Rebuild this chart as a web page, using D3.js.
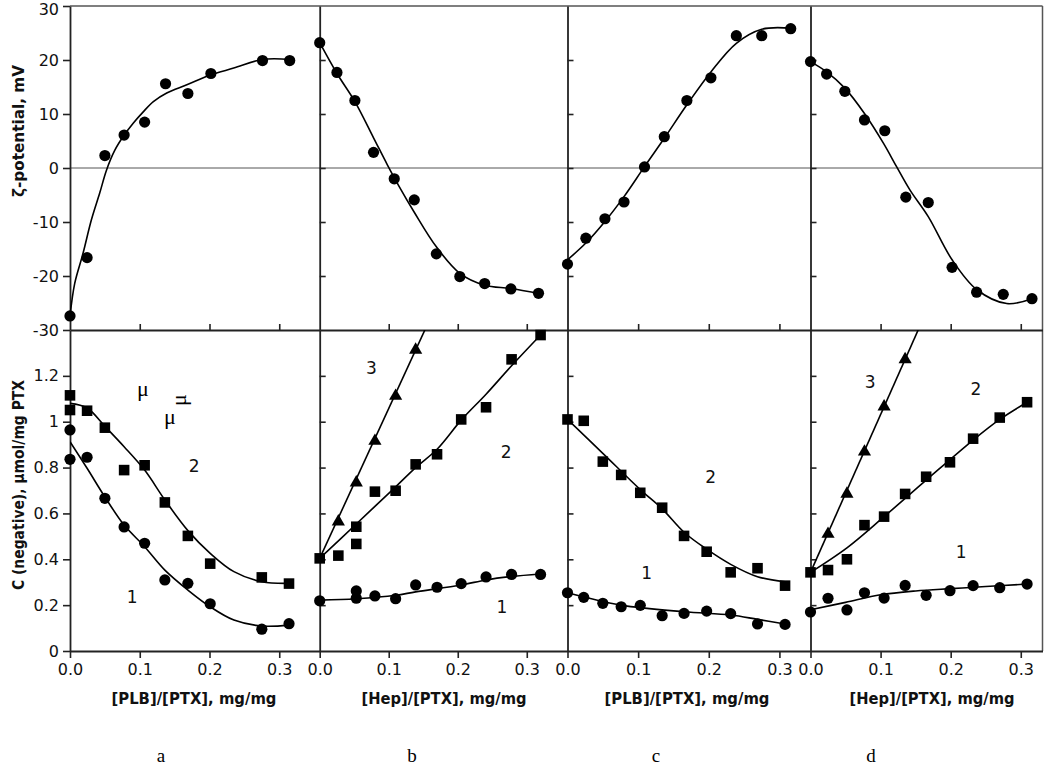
<!DOCTYPE html>
<html><head><meta charset="utf-8">
<script src="https://cdn.jsdelivr.net/npm/d3@7"></script>
<style>body{margin:0;background:#fff}svg{display:block}</style>
</head><body><svg id="c" width="1050" height="769"></svg>
<script>
// ---------- DATA ----------
const panelLetters = ["a", "b", "c", "d"];
const xTitles = ["[PLB]/[PTX], mg/mg", "[Hep]/[PTX], mg/mg", "[PLB]/[PTX], mg/mg", "[Hep]/[PTX], mg/mg"];
const xMax = [0.358, 0.359, 0.344, 0.331];
const xTickValues = [0, 0.1, 0.2, 0.3];
const zetaTicks = [30, 20, 10, 0, -10, -20, -30];
const concTicks = [0, 0.2, 0.4, 0.6, 0.8, 1, 1.2];

// zeta-potential, mV (top row)
const zetaA = [[0,-27.4],[0.0245,-16.6],[0.050,2.3],[0.0776,6.1],[0.107,8.5],[0.137,15.6],[0.169,13.8],[0.202,17.5],[0.276,19.9],[0.315,19.9]];
const zetaB = [[0,23.2],[0.025,17.7],[0.051,12.5],[0.078,2.9],[0.108,-2.0],[0.137,-5.9],[0.169,-15.9],[0.203,-20.1],[0.239,-21.4],[0.277,-22.4],[0.317,-23.2]];
const zetaC = [[0,-17.8],[0.026,-13.0],[0.053,-9.4],[0.080,-6.3],[0.109,0.2],[0.137,5.8],[0.169,12.5],[0.203,16.7],[0.239,24.5],[0.275,24.5],[0.316,25.8]];
const zetaD = [[0,19.7],[0.023,17.4],[0.049,14.2],[0.077,8.9],[0.106,6.9],[0.136,-5.4],[0.168,-6.4],[0.202,-18.4],[0.237,-23.0],[0.275,-23.4],[0.316,-24.2]];

// fitted curves (top row)
const zetaFitA = [[0,-27.4],[0.0067,-21.4],[0.0187,-15.8],[0.0307,-9.6],[0.0427,-4.6],[0.0523,-0.4],[0.0643,3.3],[0.0777,6.1],[0.0906,8.3],[0.105,10.4],[0.1195,12.3],[0.1387,13.9],[0.1675,15.4],[0.2011,17.2],[0.2347,18.5],[0.276,20.1],[0.316,20.1]];
const zetaFitB = [[0,23.2],[0.025,17.5],[0.051,12.3],[0.078,5.6],[0.098,0.6],[0.115,-3.4],[0.137,-8.2],[0.169,-14.6],[0.203,-19.5],[0.239,-21.7],[0.277,-22.3],[0.317,-23.2]];
const zetaFitC = [[0,-17.0],[0.026,-13.9],[0.053,-9.9],[0.080,-5.3],[0.109,0.25],[0.137,5.5],[0.169,11.7],[0.203,17.8],[0.239,23.1],[0.275,25.7],[0.316,25.9]];
const zetaFitD = [[0,19.7],[0.023,17.8],[0.049,14.8],[0.077,10.1],[0.104,4.6],[0.123,0.2],[0.142,-4.1],[0.168,-9.0],[0.202,-17.0],[0.237,-22.5],[0.280,-25.1],[0.316,-24.2]];

// C (negative), umol/mg PTX (bottom row); series 1 = circles, 2 = squares, 3 = triangles
const concA1 = [[0,0.964],[0,0.836],[0.0245,0.845],[0.050,0.666],[0.0776,0.541],[0.107,0.470],[0.136,0.310],[0.169,0.295],[0.201,0.206],[0.275,0.095],[0.314,0.119]];
const concA2 = [[0,1.115],[0,1.051],[0.0245,1.048],[0.050,0.974],[0.0776,0.789],[0.107,0.810],[0.136,0.648],[0.169,0.502],[0.201,0.381],[0.275,0.321],[0.314,0.294]];
const concB1 = [[0,0.219],[0.053,0.230],[0.053,0.262],[0.080,0.240],[0.110,0.228],[0.139,0.288],[0.170,0.278],[0.205,0.294],[0.241,0.323],[0.278,0.334],[0.320,0.334]];
const concB2 = [[0,0.404],[0.027,0.416],[0.053,0.542],[0.053,0.467],[0.080,0.695],[0.110,0.699],[0.139,0.814],[0.170,0.858],[0.205,1.010],[0.241,1.063],[0.278,1.272],[0.320,1.378]];
const concB3 = [[0.027,0.564],[0.053,0.734],[0.080,0.916],[0.110,1.112],[0.139,1.313]];
const concC1 = [[0,0.254],[0.023,0.234],[0.050,0.208],[0.076,0.193],[0.103,0.199],[0.134,0.154],[0.165,0.164],[0.197,0.174],[0.231,0.163],[0.269,0.118],[0.308,0.116]];
const concC2 = [[0,1.010],[0.023,1.004],[0.050,0.826],[0.076,0.768],[0.103,0.690],[0.134,0.625],[0.165,0.502],[0.197,0.433],[0.231,0.343],[0.269,0.361],[0.308,0.285]];
const concD1 = [[0,0.170],[0.025,0.230],[0.052,0.179],[0.077,0.254],[0.105,0.231],[0.135,0.286],[0.165,0.243],[0.199,0.263],[0.232,0.285],[0.270,0.276],[0.309,0.292]];
const concD2 = [[0,0.343],[0.025,0.353],[0.052,0.400],[0.077,0.549],[0.105,0.586],[0.135,0.685],[0.165,0.760],[0.199,0.823],[0.232,0.926],[0.270,1.018],[0.309,1.085]];
const concD3 = [[0.025,0.510],[0.052,0.685],[0.077,0.869],[0.105,1.066],[0.135,1.272]];

// fitted curves (bottom row)
const concFitA1 = [[0,0.913],[0.0245,0.797],[0.05,0.672],[0.0776,0.549],[0.107,0.455],[0.136,0.353],[0.169,0.266],[0.201,0.193],[0.235,0.135],[0.275,0.109],[0.314,0.113]];
const concFitA2 = [[0,1.080],[0.0245,1.06],[0.05,0.98],[0.0776,0.891],[0.107,0.789],[0.136,0.659],[0.169,0.525],[0.201,0.426],[0.235,0.346],[0.275,0.302],[0.314,0.295]];
const concFitB1 = [[0,0.222],[0.053,0.228],[0.110,0.243],[0.139,0.258],[0.205,0.288],[0.241,0.31],[0.278,0.325],[0.320,0.336]];
const concFitB2 = [[0,0.404],[0.053,0.554],[0.110,0.716],[0.139,0.80],[0.170,0.88],[0.205,1.007],[0.241,1.12],[0.278,1.244],[0.320,1.378]];
const concFitB3 = [[0,0.404],[0.16,1.450]];
const concFitC1 = [[0,0.254],[0.076,0.200],[0.165,0.171],[0.231,0.157],[0.269,0.138],[0.308,0.118]];
const concFitC2 = [[0,1.01],[0.050,0.862],[0.103,0.704],[0.134,0.62],[0.165,0.518],[0.197,0.444],[0.231,0.378],[0.269,0.324],[0.308,0.302]];
const concFitD1 = [[0,0.180],[0.05,0.212],[0.1,0.245],[0.15,0.262],[0.2,0.272],[0.25,0.281],[0.309,0.292]];
const concFitD2 = [[0,0.343],[0.052,0.45],[0.105,0.586],[0.165,0.745],[0.232,0.920],[0.270,1.01],[0.309,1.085]];
const concFitD3 = [[0,0.343],[0.16,1.444]];

// curve number labels [text, x, y]
const curveLabelsA = [["2",0.178,0.807],["1",0.089,0.236]];
const curveLabelsB = [["3",0.075,1.233],["2",0.270,0.867],["1",0.264,0.193]];
const curveLabelsC = [["2",0.2025,0.758],["1",0.112,0.339]];
const curveLabelsD = [["3",0.085,1.174],["2",0.236,1.143],["1",0.215,0.430]];

const zetaPanels = [zetaA, zetaB, zetaC, zetaD];
const zetaFits = [zetaFitA, zetaFitB, zetaFitC, zetaFitD];
const concPanels = [
  {c: concA1, s: concA2, t: null, f: [concFitA1, concFitA2]},
  {c: concB1, s: concB2, t: concB3, f: [concFitB1, concFitB2, concFitB3]},
  {c: concC1, s: concC2, t: null, f: [concFitC1, concFitC2]},
  {c: concD1, s: concD2, t: concD3, f: [concFitD1, concFitD2, concFitD3]}
];
const curveLabels = [curveLabelsA, curveLabelsB, curveLabelsC, curveLabelsD];

// ---------- LAYOUT ----------
const svg = d3.select("#c");
const edges = [70, 319.7, 567.5, 810.5, 1042.5];
const yTop = d3.scaleLinear().domain([-30, 30]).range([330, 6]);
const yBot = d3.scaleLinear().domain([0, 1.4]).range([651, 330]);
const frame = "#222";
const tickFont = "'DejaVu Sans', Verdana, sans-serif";
const titleFont = "'DejaVu Sans Condensed', 'Liberation Sans Narrow', sans-serif";

const defs = svg.append("defs");

svg.append("line").attr("x1", edges[0]).attr("x2", edges[4])
  .attr("y1", yTop(0)).attr("y2", yTop(0)).attr("stroke", "#555").attr("stroke-width", 1);
svg.append("line").attr("x1", edges[0]).attr("x2", edges[4]).attr("y1", yTop(30)).attr("y2", yTop(30))
  .attr("stroke", "#555").attr("stroke-width", 1.5);
svg.append("line").attr("x1", edges[4]).attr("x2", edges[4]).attr("y1", yTop(30)).attr("y2", yBot(0))
  .attr("stroke", "#555").attr("stroke-width", 1.5);

function styleAxis(g) {
  g.selectAll("path.domain").attr("stroke", frame).attr("stroke-width", 1.8);
  g.selectAll(".tick line").attr("stroke", frame).attr("stroke-width", 1.6);
  g.selectAll(".tick text").attr("fill", "#111").attr("font-family", tickFont).attr("font-size", 16);
}

const lineGen = (x, y) => d3.line().x(d => x(d[0])).y(d => y(d[1])).curve(d3.curveCatmullRom.alpha(0.5));
const plainNum = d => String(d);

for (let i = 0; i < 4; i++) {
  const x = d3.scaleLinear().domain([0, xMax[i]]).range([edges[i], edges[i + 1]]);

  let aTop, aBot;
  if (i === 0) {
    aTop = d3.axisLeft(yTop).tickValues(zetaTicks).tickSize(7).tickSizeOuter(0).tickPadding(4).tickFormat(plainNum);
    aBot = d3.axisLeft(yBot).tickValues(concTicks).tickSize(7).tickSizeOuter(0).tickPadding(4).tickFormat(d => d === 0 || d === 1 ? String(d) : d3.format(".1f")(d));
  } else {
    aTop = d3.axisRight(yTop).tickValues(zetaTicks.slice(1, -1)).tickSize(6).tickSizeOuter(0).tickFormat("");
    aBot = d3.axisRight(yBot).tickValues(concTicks.slice(1)).tickSize(6).tickSizeOuter(0).tickFormat("");
  }
  const gTop = svg.append("g").attr("transform", `translate(${edges[i]},0)`).call(aTop).call(styleAxis);
  if (i === 0) gTop.selectAll(".tick text").filter(d => d === 30).attr("dy", "0.5em");
  svg.append("g").attr("transform", `translate(${edges[i]},0)`).call(aBot).call(styleAxis);

  const xTopAxis = d3.axisTop(x).tickValues(xTickValues.slice(1)).tickSize(6).tickSizeOuter(0).tickFormat("");
  svg.append("g").attr("transform", `translate(0,${yTop(-30)})`).call(xTopAxis).call(styleAxis);
  const xBotAxis = d3.axisBottom(x).tickValues(xTickValues).tickSize(7).tickSizeOuter(0).tickPadding(6).tickFormat(d3.format(".1f"));
  svg.append("g").attr("transform", `translate(0,${yBot(0)})`).call(xBotAxis).call(styleAxis);

  defs.append("clipPath").attr("id", "clip" + i).append("rect")
    .attr("x", edges[i]).attr("y", yBot(1.4)).attr("width", edges[i + 1] - edges[i]).attr("height", yBot(0) - yBot(1.4));

  const gt = svg.append("g");
  gt.append("path").attr("d", lineGen(x, yTop)(zetaFits[i])).attr("fill", "none").attr("stroke", "#000").attr("stroke-width", 1.6);
  gt.selectAll("circle").data(zetaPanels[i]).join("circle")
    .attr("cx", d => x(d[0])).attr("cy", d => yTop(d[1])).attr("r", 5.6).attr("fill", "#000");

  const gb = svg.append("g");
  const gl = gb.append("g").attr("clip-path", `url(#clip${i})`);
  concPanels[i].f.forEach(f => {
    gl.append("path").attr("d", lineGen(x, yBot)(f)).attr("fill", "none").attr("stroke", "#000").attr("stroke-width", 1.6);
  });
  gb.selectAll("circle").data(concPanels[i].c).join("circle")
    .attr("cx", d => x(d[0])).attr("cy", d => yBot(d[1])).attr("r", 5.6).attr("fill", "#000");
  gb.selectAll("path.sq").data(concPanels[i].s).join("path").attr("class", "sq")
    .attr("d", d3.symbol(d3.symbolSquare, 112)())
    .attr("transform", d => `translate(${x(d[0])},${yBot(d[1])})`).attr("fill", "#000");
  if (concPanels[i].t) {
    gb.selectAll("path.tr").data(concPanels[i].t).join("path").attr("class", "tr")
      .attr("d", d3.symbol(d3.symbolTriangle, 75)())
      .attr("transform", d => `translate(${x(d[0])},${yBot(d[1])})`).attr("fill", "#000");
  }
  gb.selectAll("text.cl").data(curveLabels[i]).join("text").attr("class", "cl")
    .attr("x", d => x(d[1])).attr("y", d => yBot(d[2]))
    .attr("text-anchor", "middle").attr("dominant-baseline", "central")
    .attr("font-family", tickFont).attr("font-size", 17).attr("fill", "#111").text(d => d[0]);

  const xt = [194, 444, 687, 932][i];
  svg.append("text").attr("x", xt).attr("y", 704).attr("text-anchor", "middle")
    .attr("font-family", titleFont).attr("font-weight", "bold").attr("font-size", 16)
    .attr("textLength", 165).attr("lengthAdjust", "spacingAndGlyphs")
    .attr("fill", "#111").text(xTitles[i]);

  svg.append("text").attr("x", [161, 412, 656, 871][i]).attr("y", 762).attr("text-anchor", "middle")
    .attr("font-family", "'Liberation Serif', 'Times New Roman', serif").attr("font-size", 19)
    .attr("fill", "#000").text(panelLetters[i]);
}

svg.append("text").attr("transform", "translate(24,131) rotate(-90)").attr("text-anchor", "middle")
  .attr("font-family", titleFont).attr("font-weight", "bold").attr("font-size", 16)
  .attr("textLength", 132).attr("lengthAdjust", "spacingAndGlyphs")
  .attr("fill", "#111").text("ζ-potential, mV");
svg.append("text").attr("transform", "translate(24,485) rotate(-90)").attr("text-anchor", "middle")
  .attr("font-family", titleFont).attr("font-weight", "bold").attr("font-size", 16)
  .attr("textLength", 210).attr("lengthAdjust", "spacingAndGlyphs")
  .attr("fill", "#111").text("C (negative), µmol/mg PTX");

const strayFont = "'Liberation Serif', 'Times New Roman', serif";
svg.append("text").attr("x", 143).attr("y", 396).attr("text-anchor", "middle").attr("font-family", strayFont).attr("font-size", 22).text("μ");
svg.append("text").attr("x", 170).attr("y", 424).attr("text-anchor", "middle").attr("font-family", strayFont).attr("font-size", 22).text("μ");
svg.append("text").attr("transform", "translate(186,400) rotate(-90)").attr("text-anchor", "middle").attr("font-family", strayFont).attr("font-size", 22).text("μ");
</script></body></html>
